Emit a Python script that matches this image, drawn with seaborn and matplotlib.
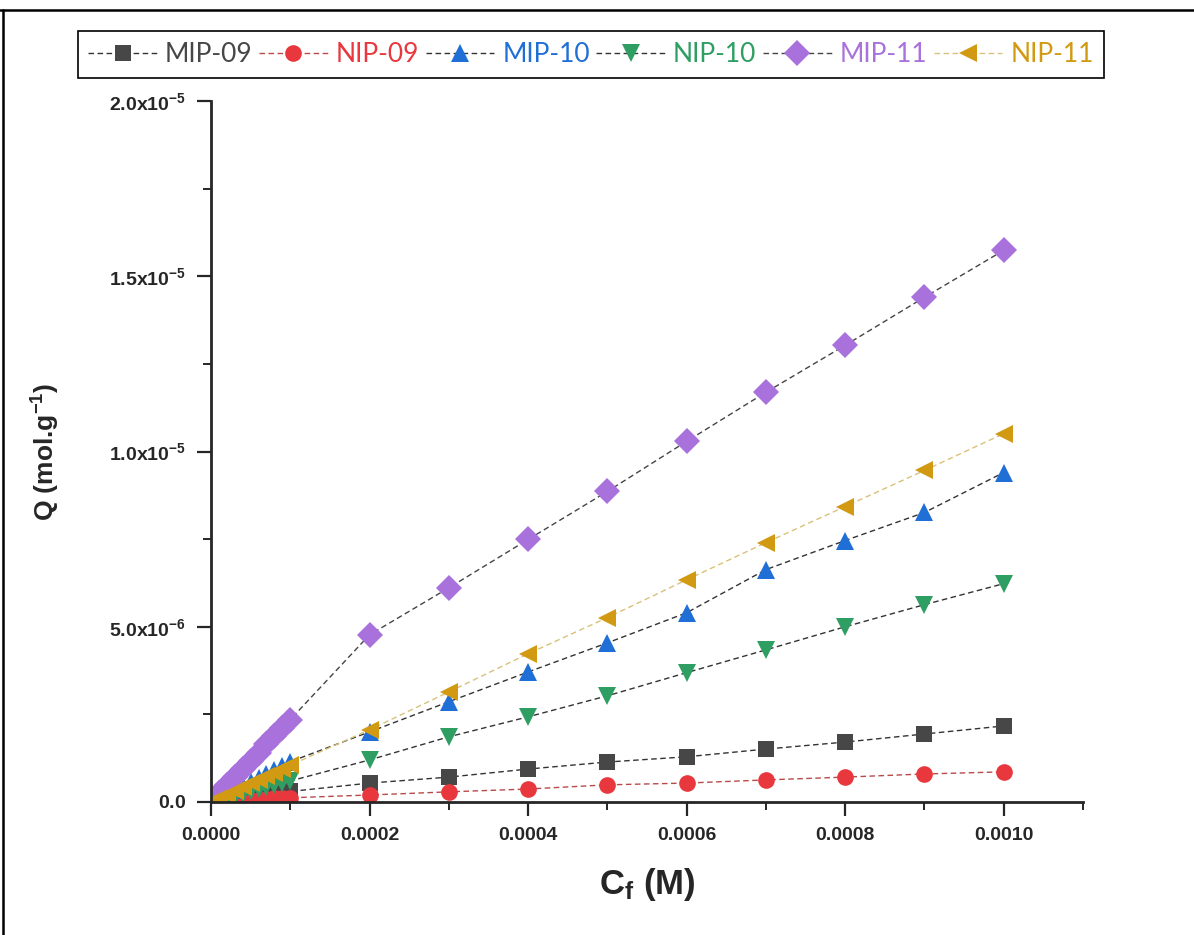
import numpy as np
import pandas as pd
import matplotlib
matplotlib.use("Agg")
import matplotlib.pyplot as plt
import matplotlib.ticker as mticker
from matplotlib.lines import Line2D
import seaborn as sns

# ── data (Q in 1e-6 mol/g) ───────────────────────────────────────────────────

cf = [0.0, 0.00001, 0.00002, 0.00003, 0.00004, 0.00005, 0.00006, 0.00007,
      0.00008, 0.00009, 0.0001,
      0.0002, 0.0003, 0.0004, 0.0005, 0.0006, 0.0007, 0.0008, 0.0009, 0.0010]

mip09 = [0.0, 0.03, 0.06, 0.09, 0.12, 0.15, 0.18, 0.21, 0.24, 0.27, 0.30,
         0.54, 0.71, 0.94, 1.14, 1.29, 1.51, 1.71, 1.94, 2.17]
nip09 = [0.0, 0.01, 0.02, 0.04, 0.05, 0.06, 0.07, 0.08, 0.10, 0.11, 0.12,
         0.20, 0.29, 0.37, 0.49, 0.54, 0.63, 0.71, 0.80, 0.86]
mip10 = [0.0, 0.12, 0.23, 0.35, 0.46, 0.58, 0.69, 0.81, 0.92, 1.04, 1.15,
         2.00, 2.86, 3.71, 4.54, 5.40, 6.63, 7.46, 8.26, 9.40]
nip10 = [0.0, 0.06, 0.12, 0.18, 0.24, 0.30, 0.36, 0.42, 0.48, 0.54, 0.60,
         1.20, 1.86, 2.43, 3.03, 3.69, 4.34, 5.00, 5.63, 6.23]
mip11 = [0.02, 0.25, 0.49, 0.72, 0.95, 1.18, 1.41, 1.65, 1.88, 2.12, 2.35,
         4.77, 6.11, 7.49, 8.86, 10.29, 11.69, 13.03, 14.40, 15.74]
nip11 = [0.0, 0.11, 0.21, 0.32, 0.42, 0.53, 0.63, 0.74, 0.84, 0.95, 1.05,
         2.06, 3.14, 4.23, 5.26, 6.34, 7.40, 8.43, 9.46, 10.51]

series_names = ["MIP-09", "NIP-09", "MIP-10", "NIP-10", "MIP-11", "NIP-11"]
series_vals = [mip09, nip09, mip10, nip10, mip11, nip11]

marker_colors = ["#474747", "#e8383d", "#1f6fd6", "#2e9e62", "#a971db", "#d19a12"]
line_colors = ["#333333", "#b84a4a", "#333333", "#333333", "#444444", "#d8c27a"]
markers = ["s", "o", "^", "v", "D", "<"]
marker_sizes = [11, 12, 13, 13, 13, 13]

rows = []
for name, vals in zip(series_names, series_vals):
    for x, q in zip(cf, vals):
        rows.append({"series": name, "cf": x, "q": q * 1e-6})
df = pd.DataFrame(rows)

# ── style ────────────────────────────────────────────────────────────────────

sns.set_style("ticks")
plt.rcParams["font.family"] = ["Liberation Sans", "DejaVu Sans"]
plt.rcParams["mathtext.fontset"] = "custom"
plt.rcParams["mathtext.rm"] = "Liberation Sans"
plt.rcParams["mathtext.bf"] = "Liberation Sans:bold"
plt.rcParams["mathtext.it"] = "Liberation Sans:italic"

fig = plt.figure(figsize=(11.94, 9.35), dpi=100)
ax = fig.add_axes([211 / 1194, 1 - 802 / 935, (1083 - 211) / 1194, (802 - 101) / 935])

for i, name in enumerate(series_names):
    sub = df[df["series"] == name]
    sns.lineplot(data=sub, x="cf", y="q", ax=ax, label=name, sort=False,
                 errorbar=None, color=line_colors[i],
                 linestyle=(0, (4, 2.5)), linewidth=1.0,
                 marker=markers[i], markersize=marker_sizes[i],
                 markerfacecolor=marker_colors[i],
                 markeredgecolor=marker_colors[i], markeredgewidth=0)

ax.set_xlim(0, 0.0011)
ax.set_ylim(0, 2.0e-5)
ax.xaxis.set_major_locator(mticker.MultipleLocator(0.0002))
ax.xaxis.set_minor_locator(mticker.MultipleLocator(0.0001))
ax.yaxis.set_major_locator(mticker.MultipleLocator(5e-6))
ax.yaxis.set_minor_locator(mticker.MultipleLocator(2.5e-6))
ax.xaxis.set_major_formatter(mticker.FuncFormatter(lambda v, _: f"{v:.4f}"))


def sci_fmt(v, _):
    if abs(v) < 1e-12:
        return r"$\mathbf{0.0}$"
    exp = int(np.floor(np.log10(abs(v))))
    mant = v / 10 ** exp
    return r"$\mathbf{%.1fx10^{%d}}$" % (mant, exp)


ax.yaxis.set_major_formatter(mticker.FuncFormatter(sci_fmt))

sns.despine(ax=ax)
for side in ["left", "bottom"]:
    ax.spines[side].set_linewidth(2)
ax.tick_params(which="major", direction="out", length=10, width=1.6,
               labelsize=14, pad=8)
ax.tick_params(which="minor", direction="out", length=6, width=1.4)
for lab in ax.get_xticklabels():
    lab.set_fontweight("bold")

ax.set_xlabel(r"C$_\mathbf{f}$ (M)", fontsize=25, fontweight="bold", labelpad=16)
ax.set_ylabel(r"Q (mol.g$^{\mathbf{-1}}$)", fontsize=19, fontweight="bold", labelpad=34)

leg = ax.legend(loc="center", bbox_to_anchor=(591 / 1194, 1 - 54.5 / 935),
                bbox_transform=fig.transFigure, ncol=6, frameon=True,
                fancybox=False, framealpha=1, edgecolor="black",
                prop={"family": "Lato", "size": 19}, labelcolor=marker_colors,
                handlelength=2.6, handletextpad=0.3, columnspacing=0.25,
                borderpad=0.4, borderaxespad=0, numpoints=1)
leg.get_frame().set_linewidth(1.2)

# outer screenshot frame (top and left edges)
fig.add_artist(Line2D([0, 1], [1 - 10 / 935] * 2, transform=fig.transFigure,
                      color="black", linewidth=1.8))
fig.add_artist(Line2D([3 / 1194] * 2, [0, 1 - 10 / 935], transform=fig.transFigure,
                      color="black", linewidth=1.8))

fig.savefig("out.png", dpi=100)
